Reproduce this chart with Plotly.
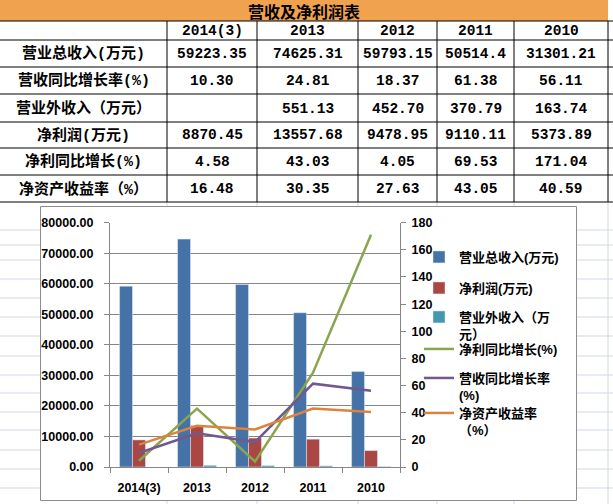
import plotly.graph_objects as go

W, H = 613, 504

# ---------------- data ----------------
table_title = "营收及净利润表"
years = ["2014(3)", "2013", "2012", "2011", "2010"]
row_labels = ["营业总收入(万元)", "营收同比增长率(%)", "营业外收入（万元）",
              "净利润(万元)", "净利同比增长(%)", "净资产收益率（%）"]
revenue = [59223.35, 74625.31, 59793.15, 50514.4, 31301.21]
revenue_growth = [10.30, 24.81, 18.37, 61.38, 56.11]
non_operating = [None, 551.13, 452.70, 370.79, 163.74]
net_profit = [8870.45, 13557.68, 9478.95, 9110.11, 5373.89]
profit_growth = [4.58, 43.03, 4.05, 69.53, 171.04]
roe = [16.48, 30.35, 27.63, 43.05, 40.59]

legend_names = ["营业总收入(万元)", "净利润(万元)", "营业外收入（万<br>元）",
                "净利同比增长(%)", "营收同比增长率<br>(%)", "净资产收益率<br>（%）"]

left_ticks = [0, 10000, 20000, 30000, 40000, 50000, 60000, 70000, 80000]
right_ticks = [0, 20, 40, 60, 80, 100, 120, 140, 160, 180]

# ---------------- styles / layout geometry ----------------
C_BLUE, C_RED, C_TEAL = "#4572A7", "#AA4643", "#4198AF"
C_GREEN, C_PURPLE, C_ORANGE = "#89A54E", "#71588F", "#DB843D"
AX_GRAY = "#868686"
SHEET_GRID = "#D0D7E5"
TITLE_FILL = "#F0A24E"

col_edges = [0, 167, 257, 358, 437, 514, 608]
row_edges = [0, 21, 40, 67, 94, 122, 148, 175, 202]
sheet_rows = [230, 245, 260, 279, 298, 317, 336, 356, 375, 393, 412, 430, 450, 469, 488]


def px(x):
    return x / W


def py(y):
    return 1 - y / H


shapes = []
# spreadsheet gridlines
for yy in sheet_rows:
    shapes.append(dict(type="line", xref="paper", yref="paper", x0=0, x1=1,
                       y0=py(yy), y1=py(yy), line=dict(color=SHEET_GRID, width=1), layer="below"))
for xx in col_edges[1:]:
    shapes.append(dict(type="line", xref="paper", yref="paper", x0=px(xx), x1=px(xx),
                       y0=py(row_edges[-1]), y1=0, line=dict(color=SHEET_GRID, width=1), layer="below"))
# title bar
shapes.append(dict(type="rect", xref="paper", yref="paper", x0=0, x1=px(col_edges[-1]),
                   y0=py(row_edges[1]), y1=1, fillcolor=TITLE_FILL, line=dict(width=0), layer="below"))
# table borders
for yy in row_edges[1:]:
    shapes.append(dict(type="line", xref="paper", yref="paper", x0=0, x1=1,
                       y0=py(yy), y1=py(yy), line=dict(color="black", width=1), layer="below"))
for xx in col_edges[1:]:
    shapes.append(dict(type="line", xref="paper", yref="paper", x0=px(xx), x1=px(xx),
                       y0=py(row_edges[1]), y1=py(row_edges[-1]), line=dict(color="black", width=1),
                       layer="below"))
# chart area
shapes.append(dict(type="rect", xref="paper", yref="paper", x0=px(40.5), x1=px(576.5),
                   y0=py(500.5), y1=py(206.5), fillcolor="white",
                   line=dict(color="#8C8C8C", width=1), layer="below"))

annotations = []
cjk_font = dict(family="Liberation Mono, Noto Sans CJK SC", size=15, color="black", weight="bold")
num_font = dict(family="Liberation Mono, Noto Sans CJK SC", size=14.5, color="black", weight="bold")
annotations.append(dict(text=table_title, xref="paper", yref="paper", showarrow=False,
                        x=px(col_edges[-1] / 2), y=py((row_edges[0] + row_edges[1]) / 2),
                        xanchor="center", yanchor="middle",
                        font=dict(family="Noto Sans CJK SC", size=16, color="black", weight="bold")))


def cell(text, ci, ri, font):
    annotations.append(dict(text=text, xref="paper", yref="paper", showarrow=False,
                            x=px((col_edges[ci] + col_edges[ci + 1]) / 2),
                            y=py((row_edges[ri] + row_edges[ri + 1]) / 2 + 0.5),
                            xanchor="center", yanchor="middle", font=font))


for j, yr in enumerate(years):
    cell(yr, j + 1, 1, num_font)

rows = [revenue, revenue_growth, non_operating, net_profit, profit_growth, roe]
for i, (lab, vals) in enumerate(zip(row_labels, rows)):
    cell(lab, 0, i + 2, cjk_font)
    for j, v in enumerate(vals):
        if v is None:
            txt = ""
        elif i == 0:
            txt = str(v)
        else:
            txt = f"{v:.2f}"
        cell(txt, j + 1, i + 2, num_font)

# ---------------- traces ----------------
fig = go.Figure()
fig.add_trace(go.Bar(x=years, y=revenue, name=legend_names[0], marker_color=C_BLUE, legend="legend"))
fig.add_trace(go.Bar(x=years, y=net_profit, name=legend_names[1], marker_color=C_RED, legend="legend2"))
fig.add_trace(go.Bar(x=years, y=non_operating, name=legend_names[2], marker_color=C_TEAL, legend="legend3"))
fig.add_trace(go.Scatter(x=years, y=profit_growth, name=legend_names[3], mode="lines", yaxis="y2",
                         line=dict(color=C_GREEN, width=2.5), legend="legend4"))
fig.add_trace(go.Scatter(x=years, y=revenue_growth, name=legend_names[4], mode="lines", yaxis="y2",
                         line=dict(color=C_PURPLE, width=2.5), legend="legend5"))
fig.add_trace(go.Scatter(x=years, y=roe, name=legend_names[5], mode="lines", yaxis="y2",
                         line=dict(color=C_ORANGE, width=2.5), legend="legend6"))

tick_font = dict(family="Liberation Sans, Noto Sans CJK SC", size=12.5, color="black", weight="bold")
leg_font = dict(family="Liberation Sans, Noto Sans CJK SC", size=13, color="black", weight="bold")
legend_tops = [258, 289, 318, 350, 379, 414]
legends = {}
for k, ly in enumerate(legend_tops):
    key = "legend" if k == 0 else f"legend{k + 1}"
    legends[key] = dict(x=px(419), y=py(ly - 16), xanchor="left", yanchor="top",
                        bgcolor="rgba(0,0,0,0)", borderwidth=0, font=leg_font,
                        valign="top", itemwidth=30)

fig.update_layout(
    width=W, height=H,
    margin=dict(l=0, r=0, t=0, b=0, autoexpand=False),
    paper_bgcolor="white", plot_bgcolor="rgba(0,0,0,0)",
    barmode="group", bargap=0.33, bargroupgap=0,
    shapes=shapes, annotations=annotations,
    showlegend=True,
    xaxis=dict(domain=[px(110), px(400)], type="category", tickson="boundaries",
               ticks="outside", ticklen=5, tickcolor=AX_GRAY, showline=True, linecolor=AX_GRAY,
               linewidth=1, showgrid=False, tickfont=tick_font, ticklabelstandoff=9,
               fixedrange=True, automargin=False),
    yaxis=dict(domain=[py(467), py(222.7)], range=[0, 80000], tickvals=left_ticks,
               tickformat=".2f", showgrid=True, gridcolor=AX_GRAY, gridwidth=1,
               ticks="outside", ticklen=5, tickcolor=AX_GRAY, showline=True, linecolor=AX_GRAY,
               zeroline=False, tickfont=tick_font, ticklabelstandoff=8, automargin=False),
    yaxis2=dict(overlaying="y", side="right", anchor="x", range=[0, 180], tickvals=right_ticks,
                showgrid=False, ticks="outside", ticklen=5, tickcolor=AX_GRAY, showline=True,
                linecolor=AX_GRAY, zeroline=False, tickfont=tick_font, ticklabelstandoff=3,
                automargin=False),
    **legends,
)

fig.write_html("out.html", config={"displayModeBar": False},
               post_script="document.body.style.margin='0px';")
